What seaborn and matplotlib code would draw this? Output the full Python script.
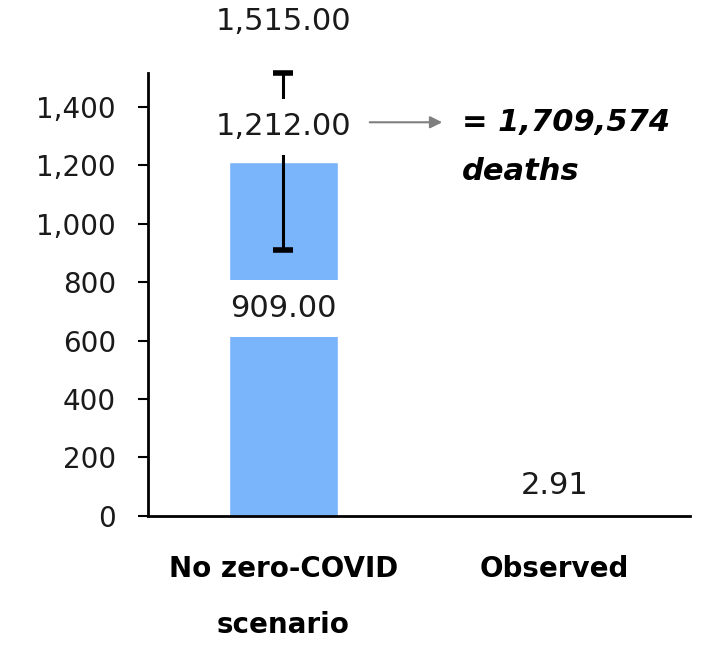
import matplotlib
matplotlib.use("Agg")
import matplotlib.pyplot as plt
import seaborn as sns
import pandas as pd

# Data
categories = ["No zero-COVID\nscenario", "Observed"]
values = [1212.00, 2.91]
lower = [909.00, None]
upper = [1515.00, None]
total_deaths = "1,709,574"

sns.set_theme(style="white")
plt.rcParams["font.family"] = ["DejaVu Sans"]

df = pd.DataFrame({"category": categories, "value": values})

fig = plt.figure(figsize=(7.15, 6.53), dpi=100)
ax = fig.add_axes([0.207, 0.21, 0.758, 0.678])

sns.barplot(data=df, x="category", y="value", color="#7AB4FB", saturation=1,
            width=0.4, errorbar=None, ax=ax, zorder=1)

# error bar for first category
ax.errorbar([0], [values[0]],
            yerr=[[values[0] - lower[0]], [upper[0] - values[0]]],
            fmt="none", ecolor="black", elinewidth=2.2, capsize=7, capthick=4,
            zorder=2, clip_on=False)

ax.set_ylim(0, 1515)
ax.set_xlim(-0.5, 1.5)
ax.set_yticks(range(0, 1401, 200))
ax.yaxis.set_major_formatter(matplotlib.ticker.FuncFormatter(lambda v, p: f"{int(v):,}"))
ax.tick_params(axis="y", which="major", left=True, length=7, width=1.5,
               color="black", labelsize=20, pad=16, labelcolor="#1a1a1a")
ax.tick_params(axis="x", length=0, pad=28, labelsize=20, labelcolor="black")
for t in ax.get_xticklabels():
    t.set_fontweight("bold")
    t.set_linespacing(2.3)
    t.set_verticalalignment("top")
ax.set_xlabel("")
ax.set_ylabel("")
sns.despine(ax=ax)
for s in ["left", "bottom"]:
    ax.spines[s].set_color("black")
    ax.spines[s].set_linewidth(2)
ax.grid(False)

box = dict(boxstyle="square,pad=0.45", fc="white", ec="none")
lab_kw = dict(ha="center", va="center", fontsize=22, color="#1a1a1a",
              textcoords="offset points", annotation_clip=False)
ax.annotate(f"{upper[0]:,.2f}", (0, upper[0]), xytext=(0, 37), **lab_kw)
ax.annotate(f"{values[0]:,.2f}", (0, values[0]), xytext=(0, 25), bbox=box,
            zorder=5, **lab_kw)
ax.annotate(f"{lower[0]:,.2f}", (0, lower[0]), xytext=(0, -42), bbox=box,
            zorder=5, **lab_kw)
ax.annotate(f"{values[1]:,.2f}", (1, values[1]), xytext=(0, 21), **lab_kw)

# arrow and total deaths text
ax.annotate("", xy=(0.548, 0.889), xytext=(0.404, 0.889), xycoords="axes fraction",
            arrowprops=dict(arrowstyle="-|>", color="#7f7f7f", lw=1.5,
                            mutation_scale=18), annotation_clip=False)
ax.text(0.579, 0.889, f"= {total_deaths}", transform=ax.transAxes, fontsize=22,
        fontweight="bold", fontstyle="italic", va="center", ha="left", color="black")
ax.text(0.579, 0.777, "deaths", transform=ax.transAxes, fontsize=22,
        fontweight="bold", fontstyle="italic", va="center", ha="left", color="black")

fig.savefig("out.png", dpi=100, facecolor="white")
